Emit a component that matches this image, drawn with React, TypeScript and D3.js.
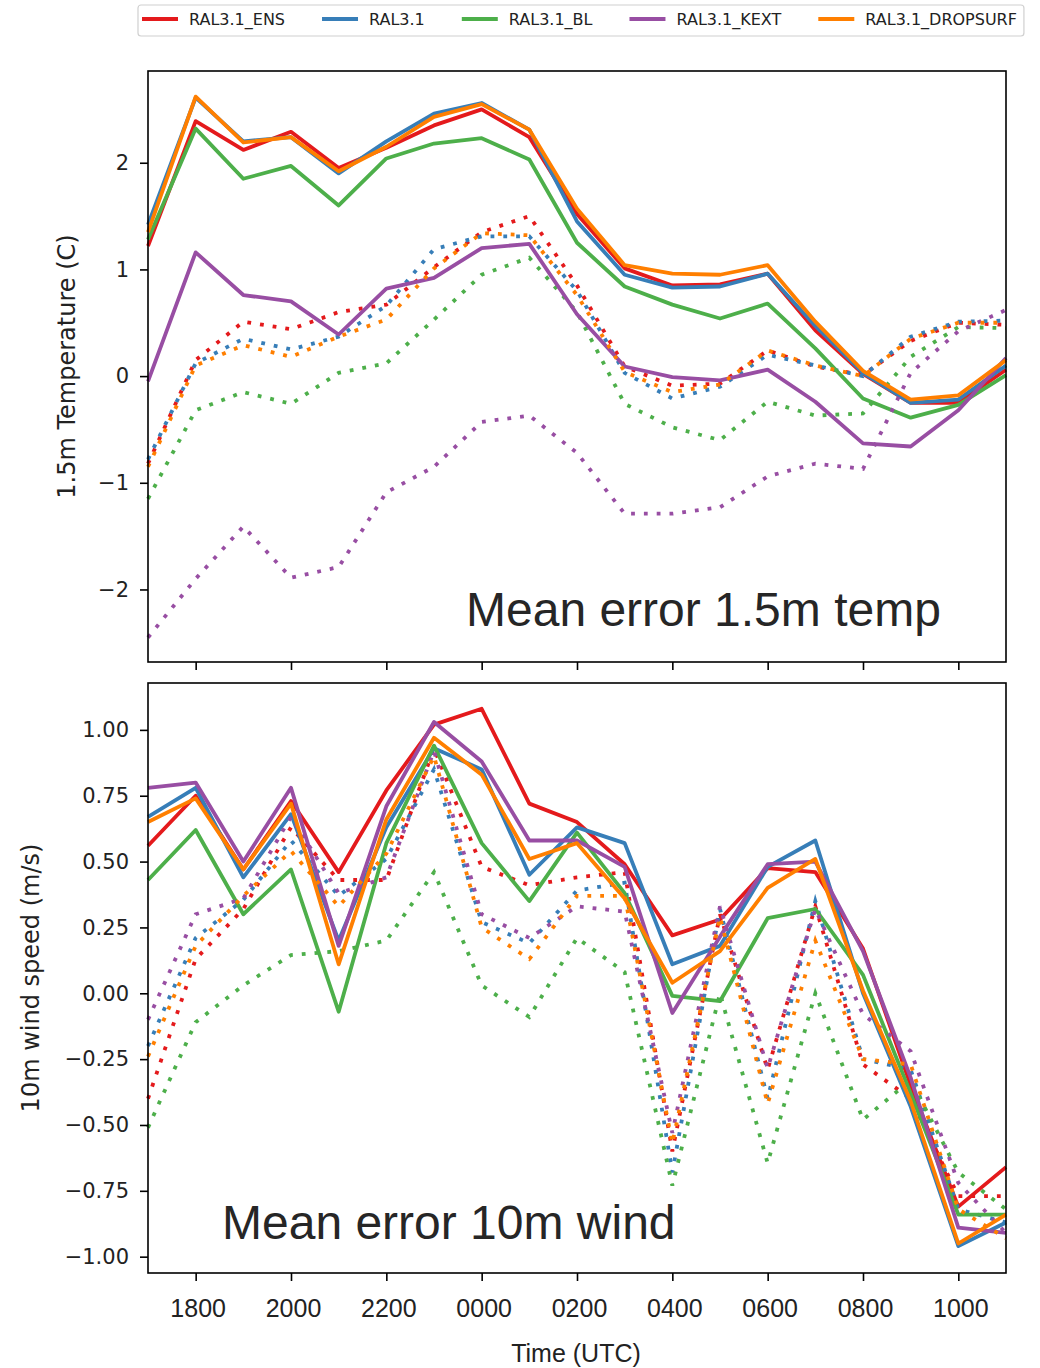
import React, { useEffect, useRef } from 'react';
import * as d3 from 'd3';

// hourly times, 1700 UTC to 1100 UTC next day
const hours = ['1700', '1800', '1900', '2000', '2100', '2200', '2300', '0000', '0100', '0200',
  '0300', '0400', '0500', '0600', '0700', '0800', '0900', '1000', '1100'];
const tickHours = ['1800', '2000', '2200', '0000', '0200', '0400', '0600', '0800', '1000'];

const runs = ['RAL3.1_ENS', 'RAL3.1', 'RAL3.1_BL', 'RAL3.1_KEXT', 'RAL3.1_DROPSURF'];
const colors = ['#e41a1c', '#377eb8', '#4daf4a', '#984ea3', '#ff7f00'];

// 1.5m temperature mean error (C), solid lines
const tempEns = [1.22, 2.39, 2.12, 2.29, 1.95, 2.14, 2.35, 2.50, 2.24, 1.52, 1.01, 0.85, 0.86, 0.96, 0.43, 0.02, -0.25, -0.25, 0.06];
const tempRal = [1.42, 2.61, 2.20, 2.24, 1.90, 2.20, 2.46, 2.56, 2.31, 1.45, 0.95, 0.83, 0.84, 0.96, 0.47, 0.03, -0.25, -0.22, 0.10];
const tempBl = [1.28, 2.32, 1.85, 1.97, 1.60, 2.04, 2.18, 2.23, 2.03, 1.25, 0.84, 0.67, 0.54, 0.68, 0.26, -0.21, -0.39, -0.27, 0.01];
const tempKext = [-0.05, 1.16, 0.76, 0.70, 0.39, 0.82, 0.92, 1.20, 1.24, 0.58, 0.09, -0.01, -0.04, 0.06, -0.24, -0.63, -0.66, -0.32, 0.17];
const tempDrop = [1.35, 2.62, 2.19, 2.24, 1.92, 2.15, 2.43, 2.55, 2.31, 1.57, 1.04, 0.96, 0.95, 1.04, 0.51, 0.05, -0.22, -0.18, 0.15];

// 1.5m temperature, dotted lines
const tempEnsDot = [-0.82, 0.15, 0.51, 0.44, 0.60, 0.67, 1.02, 1.35, 1.50, 0.85, 0.09, -0.09, -0.07, 0.24, 0.09, 0.01, 0.33, 0.50, 0.48];
const tempRalDot = [-0.78, 0.12, 0.35, 0.25, 0.37, 0.66, 1.19, 1.31, 1.31, 0.80, 0.03, -0.21, -0.10, 0.20, 0.10, 0.00, 0.37, 0.51, 0.52];
const tempBlDot = [-1.15, -0.32, -0.15, -0.26, 0.03, 0.12, 0.53, 0.95, 1.11, 0.60, -0.26, -0.48, -0.60, -0.24, -0.37, -0.35, 0.18, 0.46, 0.45];
const tempKextDot = [-2.45, -1.90, -1.41, -1.89, -1.79, -1.09, -0.85, -0.43, -0.37, -0.72, -1.29, -1.29, -1.23, -0.94, -0.82, -0.87, 0.03, 0.42, 0.62];
const tempDropDot = [-0.85, 0.10, 0.29, 0.18, 0.37, 0.53, 1.01, 1.34, 1.32, 0.76, 0.04, -0.15, -0.08, 0.24, 0.10, 0.00, 0.35, 0.50, 0.50];

// 10m wind speed mean error (m/s), solid lines
const windEns = [0.56, 0.75, 0.47, 0.73, 0.46, 0.77, 1.02, 1.08, 0.72, 0.65, 0.49, 0.22, 0.28, 0.475, 0.46, 0.17, -0.35, -0.81, -0.66];
const windRal = [0.67, 0.78, 0.44, 0.68, 0.20, 0.63, 0.93, 0.85, 0.45, 0.63, 0.57, 0.11, 0.18, 0.48, 0.58, 0.00, -0.43, -0.96, -0.87];
const windBl = [0.43, 0.62, 0.30, 0.47, -0.07, 0.57, 0.94, 0.57, 0.35, 0.61, 0.38, -0.01, -0.03, 0.285, 0.32, 0.07, -0.38, -0.84, -0.84];
const windKext = [0.78, 0.80, 0.50, 0.78, 0.18, 0.71, 1.03, 0.88, 0.58, 0.58, 0.48, -0.075, 0.215, 0.49, 0.50, 0.16, -0.32, -0.89, -0.91];
const windDrop = [0.65, 0.74, 0.47, 0.72, 0.11, 0.66, 0.97, 0.83, 0.51, 0.57, 0.36, 0.04, 0.16, 0.40, 0.51, 0.01, -0.41, -0.95, -0.84];

// 10m wind, dotted lines
const windEnsDot = [-0.40, 0.13, 0.32, 0.63, 0.43, 0.43, 0.93, 0.48, 0.41, 0.44, 0.46, -0.60, 0.30, -0.29, 0.33, -0.27, -0.40, -0.77, -0.77];
const windRalDot = [-0.20, 0.21, 0.355, 0.58, 0.37, 0.51, 0.85, 0.27, 0.19, 0.39, 0.42, -0.68, 0.32, -0.40, 0.35, -0.25, -0.29, -0.82, -0.87];
const windBlDot = [-0.51, -0.11, 0.03, 0.145, 0.16, 0.20, 0.46, 0.03, -0.09, 0.21, 0.08, -0.73, 0.00, -0.645, 0.00, -0.48, -0.33, -0.68, -0.82];
const windKextDot = [-0.10, 0.30, 0.36, 0.67, 0.38, 0.44, 0.92, 0.30, 0.21, 0.33, 0.31, -0.53, 0.33, -0.285, 0.32, -0.08, -0.22, -0.72, -0.91];
const windDropDot = [-0.24, 0.18, 0.37, 0.54, 0.33, 0.53, 0.90, 0.25, 0.13, 0.37, 0.37, -0.57, 0.29, -0.42, 0.20, -0.25, -0.27, -0.82, -0.93];

const tempTicks = [-2, -1, 0, 1, 2];
const windTicks = [-1, -0.75, -0.5, -0.25, 0, 0.25, 0.5, 0.75, 1];

const W = 1040;
const H = 1368;
const left = 148;
const right = 1006;
const dejavu = '"DejaVu Sans", sans-serif';
const arial = '"Liberation Sans", Arial, sans-serif';

function App() {
  const ref = useRef<SVGSVGElement>(null);

  useEffect(() => {
    const svg = d3.select(ref.current);
    svg.selectAll('*').remove();

    const x = d3.scalePoint<string>().domain(hours).range([left, right]).padding(0);

    const panels = [
      {
        top: 71, bottom: 662, domain: [-2.68, 2.86], ticks: tempTicks, fmt: d3.format('d'),
        solid: [tempEns, tempRal, tempBl, tempKext, tempDrop],
        dotted: [tempEnsDot, tempRalDot, tempBlDot, tempKextDot, tempDropDot],
        ylabel: '1.5m Temperature (C)', ylabelX: 75,
        note: 'Mean error 1.5m temp', noteX: 466, noteY: 626, xlabels: false,
      },
      {
        top: 683, bottom: 1273, domain: [-1.062, 1.178], ticks: windTicks, fmt: d3.format('.2f'),
        solid: [windEns, windRal, windBl, windKext, windDrop],
        dotted: [windEnsDot, windRalDot, windBlDot, windKextDot, windDropDot],
        ylabel: '10m wind speed (m/s)', ylabelX: 39,
        note: 'Mean error 10m wind', noteX: 222, noteY: 1239, xlabels: true,
      },
    ];

    panels.forEach((p) => {
      const y = d3.scaleLinear().domain(p.domain).range([p.bottom, p.top]);
      const g = svg.append('g');

      const line = d3.line<number>()
        .x((_, i) => x(hours[i]) as number)
        .y((d) => y(d));

      // lines: solid + dotted for each run
      runs.forEach((r, k) => {
        g.append('path')
          .attr('d', line(p.solid[k]))
          .attr('fill', 'none')
          .attr('stroke', colors[k])
          .attr('stroke-width', 3.8)
          .attr('stroke-linejoin', 'round');
        g.append('path')
          .attr('d', line(p.dotted[k]))
          .attr('fill', 'none')
          .attr('stroke', colors[k])
          .attr('stroke-width', 3.8)
          .attr('stroke-dasharray', '3.8 9');
      });

      // frame
      g.append('rect')
        .attr('x', left).attr('y', p.top)
        .attr('width', right - left).attr('height', p.bottom - p.top)
        .attr('fill', 'none').attr('stroke', '#000').attr('stroke-width', 1.6);

      // y axis
      const ya = g.append('g')
        .attr('transform', `translate(${left},0)`)
        .call(d3.axisLeft(y).tickValues(p.ticks).tickFormat((d) => p.fmt(d as number)).tickSize(8).tickSizeOuter(0).tickPadding(11));
      ya.select('.domain').remove();
      ya.selectAll('line').attr('stroke', '#000').attr('stroke-width', 1.6);
      ya.selectAll('text').attr('font-family', dejavu).attr('font-size', 21).attr('fill', '#222');

      // x axis
      const xa = g.append('g')
        .attr('transform', `translate(0,${p.bottom})`)
        .call(d3.axisBottom(x).tickValues(tickHours).tickSize(8).tickSizeOuter(0).tickPadding(18));
      xa.select('.domain').remove();
      xa.selectAll('line').attr('stroke', '#000').attr('stroke-width', 1.6);
      if (p.xlabels) {
        xa.selectAll('text').attr('font-family', arial).attr('font-size', 25).attr('fill', '#222').attr('dx', 2);
      } else {
        xa.selectAll('text').remove();
      }

      // y label
      g.append('text')
        .attr('transform', `translate(${p.ylabelX},${(p.top + p.bottom) / 2}) rotate(-90)`)
        .attr('text-anchor', 'middle')
        .attr('font-family', dejavu).attr('font-size', 24).attr('fill', '#222')
        .text(p.ylabel);

      // annotation
      g.append('text')
        .attr('x', p.noteX).attr('y', p.noteY)
        .attr('font-family', arial).attr('font-size', 48).attr('fill', '#262626')
        .text(p.note);
    });

    // x label
    svg.append('text')
      .attr('x', 576).attr('y', 1362)
      .attr('text-anchor', 'middle')
      .attr('font-family', arial).attr('font-size', 25).attr('fill', '#222')
      .text('Time (UTC)');

    // legend
    const lg = svg.append('g');
    const box = lg.append('rect')
      .attr('x', 138).attr('y', 5).attr('height', 31).attr('rx', 3)
      .attr('fill', '#fff').attr('stroke', '#d0d0d0').attr('stroke-width', 1.2);
    let cx = 142;
    runs.forEach((r, k) => {
      lg.append('line')
        .attr('x1', cx).attr('x2', cx + 36).attr('y1', 19).attr('y2', 19)
        .attr('stroke', colors[k]).attr('stroke-width', 3.8);
      const t = lg.append('text')
        .attr('x', cx + 47).attr('y', 25)
        .attr('font-family', dejavu).attr('font-size', 16).attr('fill', '#222')
        .text(r);
      const w = (t.node() as SVGTextElement).getComputedTextLength();
      cx = cx + 47 + w + (k < runs.length - 1 ? 37 : 7);
    });
    box.attr('width', cx - 138);
  }, []);

  return (
    <div style={{ position: 'absolute', left: 0, top: 0 }}>
      <svg ref={ref} width={W} height={H} style={{ display: 'block', background: '#fff' }} />
    </div>
  );
}

export default App;
